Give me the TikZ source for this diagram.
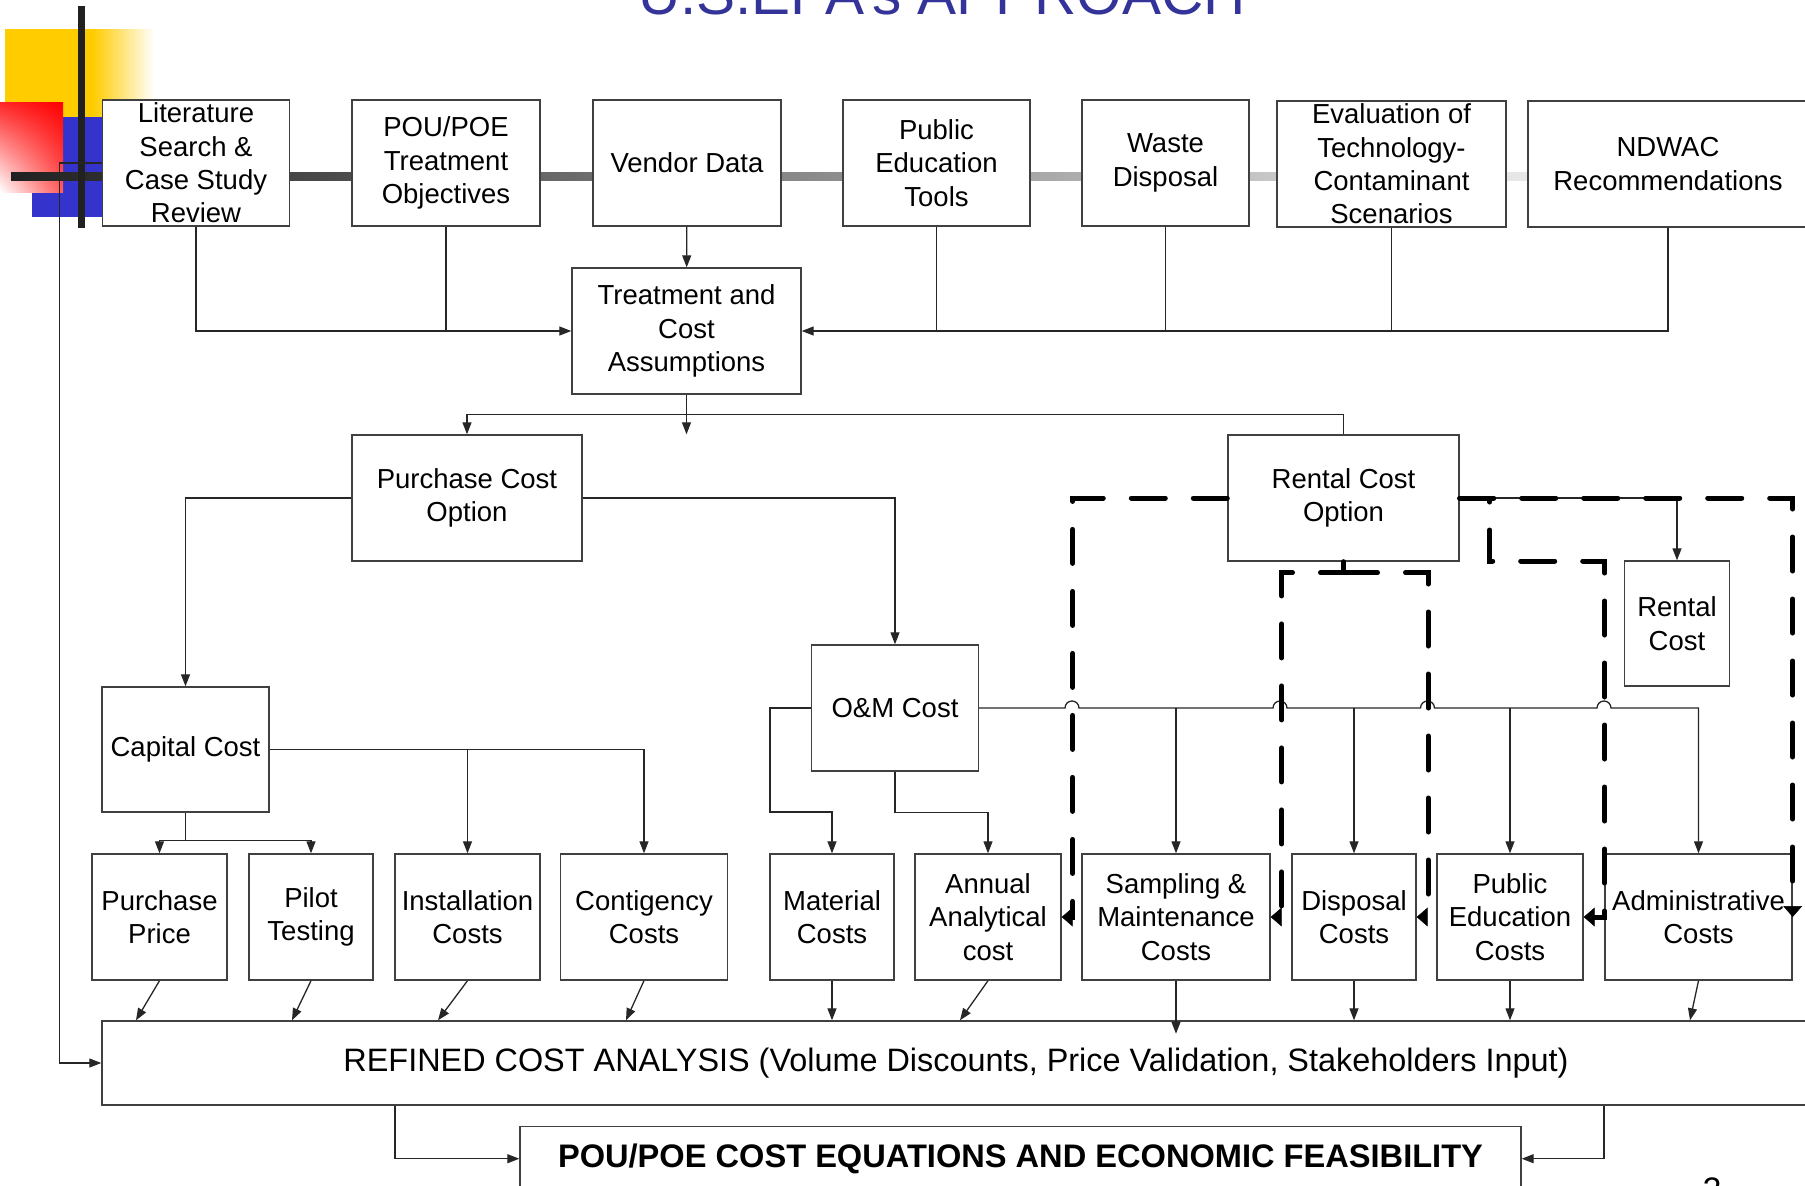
\documentclass[tikz,border=0pt]{standalone}
\usepackage{fontspec}
\setmainfont{Liberation Sans}
\usetikzlibrary{arrows.meta}
\usetikzlibrary{calc}
\usetikzlibrary{shadings}
\definecolor{titleblue}{HTML}{333399}
\definecolor{decoyellow}{HTML}{FFCC00}
\definecolor{decoblue}{HTML}{3434CC}
\definecolor{boxgray}{HTML}{404040}
\tikzset {
  % boxes of the chart
  blk/.style = {
    draw = boxgray,
    fill = white,
    line width = 1.4pt,
    align = center,
    inner sep = 0pt,
    minimum height = 126pt,
    font = \fontsize{27.5}{33.4}\selectfont
  },
  % plain connector
  ln/.style = {
    draw = black!85,
    line width = 1.3pt
  },
  % connector with a head
  arr/.style = {
    ln,
    -{Triangle[length=12pt,width=9pt]}
  },
  % thick dashed rental paths
  dsh/.style = {
    draw = black,
    line width = 5pt,
    line cap = round,
    dash pattern = on 34pt off 28pt
  },
  dsharr/.style = {
    dsh,
    -{Triangle[length=11pt,width=19pt,line width=0.5pt 0 0]}
  }
}

\begin{document}
\begin{tikzpicture}[x=1pt,y=-1pt]
  \useasboundingbox (0,0) rectangle (1805,1186);
  \clip (0,0) rectangle (1805,1186);

  % slide decoration
  \fill[decoyellow] (5,29) rectangle (93,117);
  \shade[left color=decoyellow, right color=white] (93,29) rectangle (154,117);
  \fill[decoblue] (32,117) rectangle (110,217);
  \shade[upper left=red!85!white, upper right=red, lower left=white,
    lower right=red!65!white] (0,102) rectangle (63,192);
  \shade[left color=black!87, middle color=black!31, right color=white]
    (11,172) rectangle (1700,180);
  \fill[black!87] (78,6) rectangle (85,228);

  \node[font=\fontsize{58.5}{62}\selectfont, text=titleblue, anchor=base]
    (title) at (942,14) {U.S.EPA's APPROACH};

  % top row
  \node[blk, minimum width=187pt] (lit) at (196,163) {Literature\\Search \&\\Case Study\\Review};
  \node[blk, minimum width=188pt] (pou) at (446,163) {POU/POE\\Treatment\\Objectives};
  \node[blk, minimum width=188pt] (vendor) at (687,163) {Vendor Data};
  \node[blk, minimum width=187pt] (pet) at (936.5,163) {Public\\Education\\Tools};
  \node[blk, minimum width=167pt] (waste) at (1165.5,163) {Waste\\Disposal};
  \node[blk, minimum width=229pt] (evalt) at (1391.5,164) {Evaluation of\\Technology-\\Contaminant\\Scenarios};
  \node[blk, minimum width=280pt] (ndwac) at (1668,164) {NDWAC\\Recommendations};

  \node[blk, minimum width=229pt] (treat) at (686.5,331) {Treatment and\\Cost\\Assumptions};

  % options
  \node[blk, minimum width=230pt] (purch) at (467,498) {Purchase Cost\\Option};
  \node[blk, minimum width=231pt] (rental) at (1343.5,498) {Rental Cost\\Option};
  \node[blk, minimum width=105pt, minimum height=125pt] (rcost) at (1677,623.5) {Rental\\Cost};
  \node[blk, minimum width=167pt, minimum height=125pt] (capital) at (185.5,749.5) {Capital Cost};
  \node[blk, minimum width=167pt] (om) at (895,708) {O\&M Cost};

  % cost items
  \node[blk, minimum width=135pt] (pprice) at (159.5,917) {Purchase\\Price};
  \node[blk, minimum width=124pt] (pilot) at (311,917) {Pilot\\Testing};
  \node[blk, minimum width=145pt] (install) at (467.5,917) {Installation\\Costs};
  \node[blk, minimum width=167pt] (conting) at (644,917) {Contigency\\Costs};
  \node[blk, minimum width=124pt] (material) at (832,917) {Material\\Costs};
  \node[blk, minimum width=146pt] (annual) at (988,917) {Annual\\Analytical\\cost};
  \node[blk, minimum width=188pt] (sampling) at (1176,917) {Sampling \&\\Maintenance\\Costs};
  \node[blk, minimum width=124pt] (disposal) at (1354,917) {Disposal\\Costs};
  \node[blk, minimum width=146pt] (pubcost) at (1510,917) {Public\\Education\\Costs};
  \node[blk, minimum width=187pt] (admin) at (1698.5,917) {Administrative\\Costs};

  \node[blk, minimum width=1708pt, minimum height=84pt,
    font=\fontsize{32.4}{36}\selectfont] (refined) at (956,1063)
    {REFINED COST ANALYSIS (Volume Discounts, Price Validation, Stakeholders Input)};
  \node[blk, minimum width=1001pt, minimum height=64pt, anchor=north,
    font=\bfseries\fontsize{32.6}{36}\selectfont] (final) at (1020.5,1126)
    {POU/POE COST EQUATIONS AND ECONOMIC FEASIBILITY};

  \node[font=\fontsize{34}{36}\selectfont, anchor=base, inner sep=0pt] (pagenum) at (1712,1201) {2};

  % inputs to the assumptions
  \draw[arr] (lit.south) |- (treat.west);
  \draw[ln] (pou.south) -- (pou.south |- treat.west);
  \draw[arr] (vendor) -- (treat);
  \draw[arr] (ndwac.south) |- (treat.east);
  \foreach \b in {pet, waste, evalt}
    \draw[ln] (\b.south) -- (\b.south |- treat.east);

  % split into options
  \coordinate (split) at ($(treat.south)+(0,20)$);
  \draw[arr] (treat.south) -- (treat.south |- purch.north);
  \draw[arr] (split) -| (purch.north);
  \draw[ln] (split) -| (rental.north);

  \draw[arr] (purch.west) -| (capital.north);
  \draw[arr] (purch.east) -| (om.north);

  % capital cost items
  \draw[arr] (capital.east) -| (conting.north);
  \draw[arr] (capital.east -| install.north) -- (install.north);
  \coordinate (capsplit) at ($(capital.south)+(0,28)$);
  \draw[ln] (capital.south) -- (capsplit);
  \draw[arr] (capsplit) -| (pprice.north);
  \draw[arr] (capsplit) -| (pilot.north);

  % O&M cost items
  \draw[arr] (om.west) -| (770,812) -| (material.north);
  \draw[arr] (om.south) -- ++(0,41) -| (annual.north);
  \draw[arr] (om.east) -- (1065,708) arc[start angle=180,end angle=0,radius=7pt]
    -- (1273,708) arc[start angle=180,end angle=0,radius=7pt]
    -- (1420.5,708) arc[start angle=180,end angle=0,radius=7pt]
    -- (1597,708) arc[start angle=180,end angle=0,radius=7pt]
    -| (admin.north);
  \foreach \b in {sampling, disposal, pubcost}
    \draw[arr] (\b.north |- om.east) -- (\b.north);

  \draw[arr] (rental.east) -| (rcost.north);

  % rental paths
  \draw[dsharr] (rental.west) -| ([xshift=11pt]annual.east) -- (annual.east);
  \coordinate (rsplit) at ($(rental.south)+(0,11)$);
  \draw[dsharr] (rental.south) -- (rsplit) -| ([xshift=11pt]sampling.east) -- (sampling.east);
  \draw[dsharr] (rsplit) -| ([xshift=11.5pt]disposal.east) -- (disposal.east);
  \draw[dsharr] (rental.east) -| ($(rental.east)+(30,63)$)
    -| ([xshift=21pt]pubcost.east) -- (pubcost.east);
  \draw[dsharr] (rental.east) -| (admin.east);

  % into the refined analysis
  \foreach \b/\x in {pprice/136, pilot/292, install/438, conting/626, material/832,
      annual/960, disposal/1354, pubcost/1510, admin/1690}
    \draw[arr] (\b.south) -- (\x,0 |- refined.north);
  \draw[arr] (sampling.south) -- ++(0,53);
  \draw[arr] (lit.west) -- ++(-42,0) |- (refined.west);

  \draw[arr] (395,0 |- refined.south) |- (final.west);
  \draw[arr] (1604,0 |- refined.south) |- (final.east);
\end{tikzpicture}
\end{document}
